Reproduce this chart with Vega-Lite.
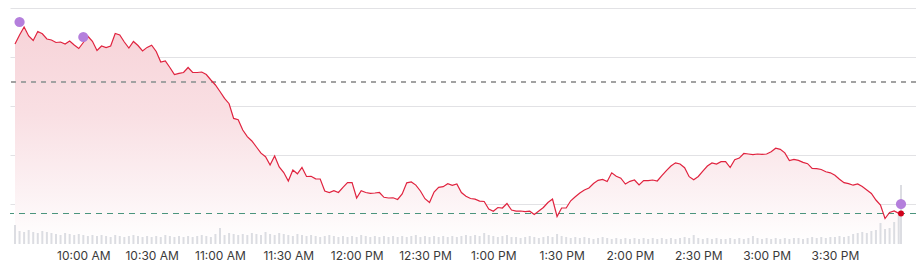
{
"$schema": "https://vega.github.io/schema/vega-lite/v6.json",
"width": 906, "height": 244,
"autosize": "none",
"padding": {"left": 10, "right": 0, "top": 0, "bottom": 21},
"background": "white",
"config": {"view": {"stroke": null}, "font": "Inter"},
"data": {"values": [
{"t":"09:30","p":195.60,"v":19},{"t":"09:32","p":196.50,"v":13},{"t":"09:34","p":197.30,"v":12},{"t":"09:36","p":196.40,"v":14},{"t":"09:38","p":195.95,"v":12},{"t":"09:40","p":196.85,"v":11},{"t":"09:42","p":196.62,"v":13},{"t":"09:44","p":196.10,"v":12},{"t":"09:46","p":196.00,"v":11},{"t":"09:48","p":195.75,"v":10},
{"t":"09:50","p":195.80,"v":9},{"t":"09:52","p":195.60,"v":11},{"t":"09:54","p":195.90,"v":10},{"t":"09:56","p":195.50,"v":9},{"t":"09:58","p":195.15,"v":10},{"t":"10:00","p":195.75,"v":9},{"t":"10:02","p":196.37,"v":8},{"t":"10:04","p":195.87,"v":9},{"t":"10:06","p":194.95,"v":8},{"t":"10:08","p":195.40,"v":9},
{"t":"10:10","p":195.25,"v":8},{"t":"10:12","p":195.40,"v":7},{"t":"10:14","p":196.65,"v":9},{"t":"10:16","p":196.50,"v":8},{"t":"10:18","p":195.80,"v":7},{"t":"10:20","p":195.20,"v":8},{"t":"10:22","p":195.85,"v":9},{"t":"10:24","p":195.45,"v":8},{"t":"10:26","p":194.90,"v":7},{"t":"10:28","p":195.26,"v":8},
{"t":"10:30","p":195.48,"v":7},{"t":"10:32","p":194.85,"v":8},{"t":"10:34","p":193.80,"v":7},{"t":"10:36","p":193.90,"v":9},{"t":"10:38","p":193.25,"v":8},{"t":"10:40","p":192.55,"v":7},{"t":"10:42","p":192.67,"v":8},{"t":"10:44","p":192.75,"v":7},{"t":"10:46","p":193.25,"v":8},{"t":"10:48","p":192.77,"v":7},
{"t":"10:50","p":192.75,"v":8},{"t":"10:52","p":192.80,"v":9},{"t":"10:54","p":192.55,"v":8},{"t":"10:56","p":192.00,"v":7},{"t":"10:58","p":191.50,"v":10},{"t":"11:00","p":190.85,"v":16},{"t":"11:02","p":190.16,"v":9},{"t":"11:04","p":189.63,"v":11},{"t":"11:06","p":188.16,"v":10},{"t":"11:08","p":188.03,"v":9},
{"t":"11:10","p":187.00,"v":10},{"t":"11:12","p":186.34,"v":9},{"t":"11:14","p":185.90,"v":11},{"t":"11:16","p":185.30,"v":10},{"t":"11:18","p":184.68,"v":9},{"t":"11:20","p":184.33,"v":12},{"t":"11:22","p":183.50,"v":10},{"t":"11:24","p":184.40,"v":9},{"t":"11:26","p":183.30,"v":11},{"t":"11:28","p":182.75,"v":10},
{"t":"11:30","p":181.90,"v":9},{"t":"11:32","p":183.00,"v":8},{"t":"11:34","p":182.62,"v":10},{"t":"11:36","p":183.25,"v":9},{"t":"11:38","p":182.35,"v":8},{"t":"11:40","p":182.37,"v":9},{"t":"11:42","p":182.12,"v":8},{"t":"11:44","p":182.10,"v":7},{"t":"11:46","p":180.90,"v":8},{"t":"11:48","p":180.75,"v":9},
{"t":"11:50","p":180.94,"v":8},{"t":"11:52","p":180.75,"v":7},{"t":"11:54","p":181.27,"v":8},{"t":"11:56","p":181.73,"v":7},{"t":"11:58","p":181.75,"v":8},{"t":"12:00","p":180.20,"v":7},{"t":"12:02","p":180.92,"v":9},{"t":"12:04","p":180.75,"v":8},{"t":"12:06","p":180.67,"v":7},{"t":"12:08","p":180.70,"v":8},
{"t":"12:10","p":180.75,"v":7},{"t":"12:12","p":180.27,"v":8},{"t":"12:14","p":180.20,"v":7},{"t":"12:16","p":180.22,"v":8},{"t":"12:18","p":180.05,"v":7},{"t":"12:20","p":180.60,"v":8},{"t":"12:22","p":181.72,"v":7},{"t":"12:24","p":181.80,"v":8},{"t":"12:26","p":181.49,"v":9},{"t":"12:28","p":180.90,"v":7},
{"t":"12:30","p":180.13,"v":8},{"t":"12:32","p":179.75,"v":7},{"t":"12:34","p":180.80,"v":8},{"t":"12:36","p":181.27,"v":7},{"t":"12:38","p":181.33,"v":8},{"t":"12:40","p":181.63,"v":7},{"t":"12:42","p":181.47,"v":8},{"t":"12:44","p":181.60,"v":7},{"t":"12:46","p":180.75,"v":8},{"t":"12:48","p":180.37,"v":9},
{"t":"12:50","p":180.15,"v":8},{"t":"12:52","p":180.08,"v":9},{"t":"12:54","p":179.89,"v":8},{"t":"12:56","p":179.85,"v":11},{"t":"12:58","p":179.10,"v":9},{"t":"13:00","p":178.87,"v":8},{"t":"13:02","p":179.25,"v":7},{"t":"13:04","p":179.20,"v":8},{"t":"13:06","p":179.65,"v":9},{"t":"13:08","p":179.00,"v":7},
{"t":"13:10","p":178.88,"v":7},{"t":"13:12","p":178.90,"v":6},{"t":"13:14","p":178.83,"v":7},{"t":"13:16","p":178.88,"v":8},{"t":"13:18","p":178.55,"v":7},{"t":"13:20","p":178.90,"v":6},{"t":"13:22","p":179.25,"v":7},{"t":"13:24","p":179.75,"v":8},{"t":"13:26","p":180.10,"v":7},{"t":"13:28","p":178.35,"v":10},
{"t":"13:30","p":179.20,"v":8},{"t":"13:32","p":179.20,"v":7},{"t":"13:34","p":179.92,"v":6},{"t":"13:36","p":180.32,"v":7},{"t":"13:38","p":180.70,"v":6},{"t":"13:40","p":181.00,"v":7},{"t":"13:42","p":181.20,"v":6},{"t":"13:44","p":181.65,"v":5},{"t":"13:46","p":181.97,"v":6},{"t":"13:48","p":182.06,"v":7},
{"t":"13:50","p":181.85,"v":6},{"t":"13:52","p":182.72,"v":5},{"t":"13:54","p":182.37,"v":6},{"t":"13:56","p":182.18,"v":5},{"t":"13:58","p":181.60,"v":6},{"t":"14:00","p":181.87,"v":5},{"t":"14:02","p":182.00,"v":6},{"t":"14:04","p":181.50,"v":5},{"t":"14:06","p":181.95,"v":6},{"t":"14:08","p":181.93,"v":5},
{"t":"14:10","p":182.00,"v":6},{"t":"14:12","p":181.90,"v":5},{"t":"14:14","p":182.43,"v":6},{"t":"14:16","p":182.94,"v":5},{"t":"14:18","p":183.40,"v":6},{"t":"14:20","p":183.72,"v":5},{"t":"14:22","p":183.60,"v":6},{"t":"14:24","p":183.23,"v":7},{"t":"14:26","p":182.33,"v":6},{"t":"14:28","p":182.03,"v":9},
{"t":"14:30","p":182.35,"v":6},{"t":"14:32","p":182.88,"v":5},{"t":"14:34","p":183.40,"v":6},{"t":"14:36","p":183.70,"v":5},{"t":"14:38","p":183.60,"v":6},{"t":"14:40","p":183.83,"v":5},{"t":"14:42","p":183.83,"v":5},{"t":"14:44","p":183.25,"v":6},{"t":"14:46","p":184.03,"v":5},{"t":"14:48","p":184.19,"v":6},
{"t":"14:50","p":184.65,"v":5},{"t":"14:52","p":184.60,"v":6},{"t":"14:54","p":184.53,"v":8},{"t":"14:56","p":184.60,"v":6},{"t":"14:58","p":184.57,"v":5},{"t":"15:00","p":184.60,"v":6},{"t":"15:02","p":184.83,"v":5},{"t":"15:04","p":185.18,"v":6},{"t":"15:06","p":185.07,"v":5},{"t":"15:08","p":184.71,"v":6},
{"t":"15:10","p":183.95,"v":5},{"t":"15:12","p":184.07,"v":6},{"t":"15:14","p":183.96,"v":6},{"t":"15:16","p":183.76,"v":5},{"t":"15:18","p":183.63,"v":6},{"t":"15:20","p":183.17,"v":7},{"t":"15:22","p":183.13,"v":6},{"t":"15:24","p":183.05,"v":7},{"t":"15:26","p":182.82,"v":6},{"t":"15:28","p":182.72,"v":7},
{"t":"15:30","p":182.48,"v":7},{"t":"15:32","p":182.08,"v":8},{"t":"15:34","p":181.73,"v":7},{"t":"15:36","p":181.64,"v":8},{"t":"15:38","p":181.48,"v":10},{"t":"15:40","p":181.60,"v":11},{"t":"15:42","p":181.34,"v":12},{"t":"15:44","p":181.00,"v":11},{"t":"15:46","p":180.65,"v":13},{"t":"15:48","p":180.00,"v":14},
{"t":"15:50","p":179.50,"v":21},{"t":"15:52","p":178.15,"v":15},{"t":"15:54","p":178.75,"v":16},{"t":"15:56","p":178.90,"v":22},{"t":"15:58","p":178.67,"v":30},{"t":"15:59","p":178.65,"v":59}
], "format": {"parse": {"t": "date:'%H:%M'"}}},
"layer": [
{"mark": {"type": "area", "line": false, "opacity": 1, "fill": {"gradient": "linear", "x1": 0, "y1": 0, "x2": 0, "y2": 1, "stops": [{"offset": 0, "color": "#f7d4d9"}, {"offset": 0.4, "color": "#f9dfe3"}, {"offset": 0.75, "color": "#fcf1f3"}, {"offset": 1, "color": "#ffffff"}]}},
 "encoding": {
  "x": {"field": "t", "type": "temporal", "scale": {"domain": [{"year": 1900, "month": 1, "date": 1, "hours": 9, "minutes": 30}, {"year": 1900, "month": 1, "date": 1, "hours": 16, "minutes": 3, "seconds": 24}]},
   "axis": {"values": [{"year": 1900, "month": 1, "date": 1, "hours": 10, "minutes": 0}, {"year": 1900, "month": 1, "date": 1, "hours": 10, "minutes": 30}, {"year": 1900, "month": 1, "date": 1, "hours": 11, "minutes": 0}, {"year": 1900, "month": 1, "date": 1, "hours": 11, "minutes": 30}, {"year": 1900, "month": 1, "date": 1, "hours": 12, "minutes": 0}, {"year": 1900, "month": 1, "date": 1, "hours": 12, "minutes": 30}, {"year": 1900, "month": 1, "date": 1, "hours": 13, "minutes": 0}, {"year": 1900, "month": 1, "date": 1, "hours": 13, "minutes": 30}, {"year": 1900, "month": 1, "date": 1, "hours": 14, "minutes": 0}, {"year": 1900, "month": 1, "date": 1, "hours": 14, "minutes": 30}, {"year": 1900, "month": 1, "date": 1, "hours": 15, "minutes": 0}, {"year": 1900, "month": 1, "date": 1, "hours": 15, "minutes": 30}],
    "format": "%-I:%M %p", "title": null, "grid": false, "ticks": false, "domain": false, "labelFont": "Inter", "labelFontSize": 12, "labelColor": "#3a3a3a", "labelPadding": 6, "labelFlush": false}},
  "y": {"field": "p", "type": "quantitative", "scale": {"domain": [175.6, 200], "nice": false, "zero": false},
   "axis": {"values": [179.57, 184.47, 189.37, 194.27, 199.17], "labels": false, "ticks": false, "domain": false, "title": null, "grid": true, "gridColor": "#e2e2e5", "gridWidth": 1}},
  "y2": {"datum": 175.6}
 }},
{"mark": {"type": "bar", "size": 2, "color": "#dcdde2"},
 "encoding": {"x": {"field": "t", "type": "temporal"}, "y": {"field": "v", "type": "quantitative", "scale": {"domain": [0, 244], "nice": false}, "axis": null}}},
{"mark": {"type": "rule", "color": "#a3a3a3", "strokeDash": [5, 5], "strokeWidth": 1.5},
 "encoding": {"y": {"datum": 191.8, "type": "quantitative", "scale": {"domain": [175.6, 200], "nice": false, "zero": false}, "axis": null}}},
{"mark": {"type": "rule", "color": "#4b957d", "strokeDash": [6, 5], "strokeWidth": 1.2},
 "encoding": {"y": {"datum": 178.65, "type": "quantitative", "scale": {"domain": [175.6, 200], "nice": false, "zero": false}, "axis": null}}},
{"mark": {"type": "line", "color": "#e0233f", "strokeWidth": 1.2},
 "encoding": {"x": {"field": "t", "type": "temporal"}, "y": {"field": "p", "type": "quantitative", "scale": {"domain": [175.6, 200], "nice": false, "zero": false}, "axis": null}}},
{"data": {"values": [{"t": "09:32", "p": 197.8}, {"t": "10:00", "p": 196.3}, {"t": "15:59", "p": 179.6}], "format": {"parse": {"t": "date:'%H:%M'"}}},
 "mark": {"type": "circle", "size": 105, "color": "#b47fdc", "opacity": 1},
 "encoding": {"x": {"field": "t", "type": "temporal"}, "y": {"field": "p", "type": "quantitative", "scale": {"domain": [175.6, 200], "nice": false, "zero": false}, "axis": null}}},
{"data": {"values": [{"t": "15:59", "p": 178.65}], "format": {"parse": {"t": "date:'%H:%M'"}}},
 "mark": {"type": "circle", "size": 36, "color": "#d0021b", "opacity": 1},
 "encoding": {"x": {"field": "t", "type": "temporal"}, "y": {"field": "p", "type": "quantitative", "scale": {"domain": [175.6, 200], "nice": false, "zero": false}, "axis": null}}}
],
"resolve": {"scale": {"y": "independent"}}
}
